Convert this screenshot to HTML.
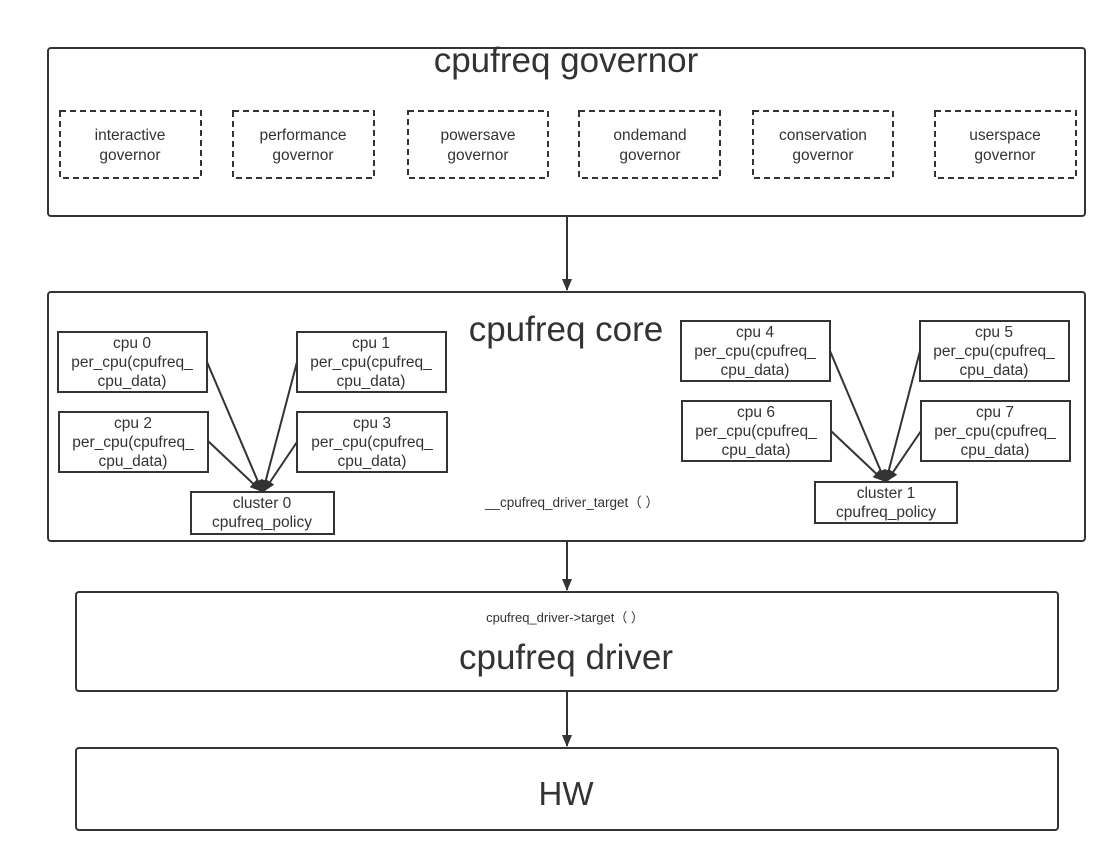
<!DOCTYPE html>
<html><head><style>
body{margin:0;background:#fff;}
svg text{font-family:"Liberation Sans","DejaVu Sans",sans-serif;fill:#333;}
</style></head><body>
<svg width="1117" height="861" xmlns="http://www.w3.org/2000/svg">
<defs><marker id="a" markerWidth="12" markerHeight="12" refX="11" refY="6" orient="auto" markerUnits="userSpaceOnUse"><path d="M0,1 L12,6 L0,11 z" fill="#333"/></marker></defs>
<g fill="none" stroke="#333" stroke-width="2">
<rect x="48" y="48" width="1037" height="168" rx="3"/>
<rect x="48" y="292" width="1037" height="249" rx="3"/>
<rect x="76" y="592" width="982" height="99" rx="3"/>
<rect x="76" y="748" width="982" height="82" rx="3"/>
<g stroke-dasharray="6,4">
<rect x="60" y="111" width="141" height="67"/>
<rect x="233" y="111" width="141" height="67"/>
<rect x="408" y="111" width="140" height="67"/>
<rect x="579" y="111" width="141" height="67"/>
<rect x="753" y="111" width="140" height="67"/>
<rect x="935" y="111" width="141" height="67"/>
</g>
<rect x="58" y="332" width="149" height="60"/>
<rect x="297" y="332" width="149" height="60"/>
<rect x="59" y="412" width="149" height="60"/>
<rect x="297" y="412" width="150" height="60"/>
<rect x="191" y="492" width="143" height="42"/>
<rect x="681" y="321" width="149" height="60"/>
<rect x="920" y="321" width="149" height="60"/>
<rect x="682" y="401" width="149" height="60"/>
<rect x="921" y="401" width="149" height="60"/>
<rect x="815" y="482" width="142" height="41"/>
<g marker-end="url(#a)">
<line x1="567" y1="216" x2="567" y2="290"/>
<line x1="567" y1="541" x2="567" y2="590"/>
<line x1="567" y1="691" x2="567" y2="746"/>
<line x1="207" y1="362" x2="262" y2="491"/>
<line x1="297" y1="362" x2="263" y2="491"/>
<line x1="208" y1="441" x2="261" y2="491"/>
<line x1="297" y1="442" x2="264" y2="491"/>
<line x1="830" y1="351" x2="885" y2="481"/>
<line x1="920" y1="351" x2="886" y2="481"/>
<line x1="831" y1="431" x2="884" y2="481"/>
<line x1="921" y1="431" x2="887" y2="481"/>
</g>
</g>
<g text-anchor="middle">
<text x="566" y="72" font-size="35">cpufreq governor</text>
<g font-size="15.5">
<text x="130" y="140">interactive</text><text x="130" y="160">governor</text>
<text x="303" y="140">performance</text><text x="303" y="160">governor</text>
<text x="478" y="140">powersave</text><text x="478" y="160">governor</text>
<text x="650" y="140">ondemand</text><text x="650" y="160">governor</text>
<text x="823" y="140">conservation</text><text x="823" y="160">governor</text>
<text x="1005" y="140">userspace</text><text x="1005" y="160">governor</text>

<text x="132" y="348">cpu 0</text><text x="132" y="367">per_cpu(cpufreq_</text><text x="132" y="386">cpu_data)</text>
<text x="371" y="348">cpu 1</text><text x="371" y="367">per_cpu(cpufreq_</text><text x="371" y="386">cpu_data)</text>
<text x="133" y="428">cpu 2</text><text x="133" y="447">per_cpu(cpufreq_</text><text x="133" y="466">cpu_data)</text>
<text x="372" y="428">cpu 3</text><text x="372" y="447">per_cpu(cpufreq_</text><text x="372" y="466">cpu_data)</text>
<text x="262" y="508">cluster 0</text><text x="262" y="527">cpufreq_policy</text>
<text x="755" y="337">cpu 4</text><text x="755" y="356">per_cpu(cpufreq_</text><text x="755" y="375">cpu_data)</text>
<text x="994" y="337">cpu 5</text><text x="994" y="356">per_cpu(cpufreq_</text><text x="994" y="375">cpu_data)</text>
<text x="756" y="417">cpu 6</text><text x="756" y="436">per_cpu(cpufreq_</text><text x="756" y="455">cpu_data)</text>
<text x="995" y="417">cpu 7</text><text x="995" y="436">per_cpu(cpufreq_</text><text x="995" y="455">cpu_data)</text>
<text x="886" y="498">cluster 1</text><text x="886" y="517">cpufreq_policy</text>
</g>
<text x="566" y="341" font-size="35">cpufreq core</text>
<text x="572" y="507" font-size="13.5">__cpufreq_driver_target（ ）</text>
<text x="565" y="622" font-size="13">cpufreq_driver-&gt;target（ ）</text>
<text x="566" y="669" font-size="35">cpufreq driver</text>
<text x="566" y="805" font-size="33">HW</text>
</g>
</svg>
</body></html>
